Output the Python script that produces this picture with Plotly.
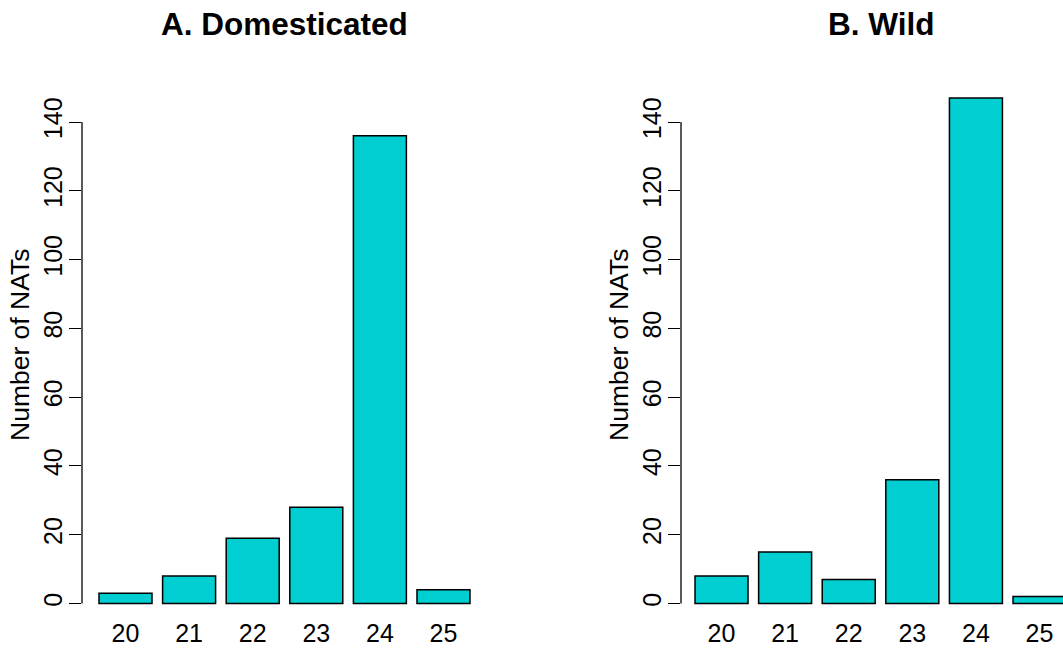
import plotly.graph_objects as go

# NAT counts by small-RNA length for the two groups
lengths = ["20", "21", "22", "23", "24", "25"]
domesticated = [3, 8, 19, 28, 136, 4]
wild = [8, 15, 7, 36, 147, 2]
y_ticks = [0, 20, 40, 60, 80, 100, 120, 140]

panel_titles = ["A. Domesticated", "B. Wild"]
y_title = "Number of NATs"

W, H = 1063, 651
FONT = "Liberation Sans, Arial, Helvetica, sans-serif"
FILL = "#00CED1"

fig = go.Figure()
fig.add_trace(go.Bar(x=lengths, y=domesticated, xaxis="x", yaxis="y",
                     marker=dict(color=FILL, line=dict(color="black", width=1.5)),
                     showlegend=False))
fig.add_trace(go.Bar(x=lengths, y=wild, xaxis="x2", yaxis="y2",
                     marker=dict(color=FILL, line=dict(color="black", width=1.5)),
                     showlegend=False))

# pixel helpers
def px_x(p):
    return p / W

def px_y(p):
    return 1 - p / H

y_dom = [px_y(610), px_y(66)]
y_rng = [-1.89, 156.3]

common_x = dict(type="category", showline=False, showgrid=False, zeroline=False,
                ticks="", tickfont=dict(family=FONT, size=25, color="black"),
                ticklabelstandoff=6)
common_y = dict(range=y_rng, domain=y_dom, showline=False, showgrid=False,
                zeroline=False, ticks="outside", ticklen=12, tickwidth=1.3,
                tickcolor="black", tickvals=y_ticks, tickangle=-90,
                ticklabelstandoff=-3,
                tickfont=dict(family=FONT, size=25, color="black"))

fig.update_layout(
    width=W, height=H, margin=dict(l=0, r=0, t=0, b=0),
    paper_bgcolor="white", plot_bgcolor="white",
    bargap=0.1667,
    xaxis=dict(domain=[px_x(82), px_x(488)], range=[-0.684, 5.70], anchor="y", **common_x),
    xaxis2=dict(domain=[px_x(681), 1.0], range=[-0.637, 5.369], anchor="y2", **common_x),
    yaxis=dict(anchor="x", **common_y),
    yaxis2=dict(anchor="x2", **common_y),
)

# R-style y axis lines spanning only the tick range
for xr, yr in (("x domain", "y"), ("x2 domain", "y2")):
    fig.add_shape(type="line", xref=xr, yref=yr, x0=0, x1=0,
                  y0=min(y_ticks), y1=max(y_ticks),
                  line=dict(color="black", width=1.3))

# panel titles and axis titles
for cx, title, ax in ((284.5, panel_titles[0], 20), (880.5, panel_titles[1], 619)):
    fig.add_annotation(text="<b>%s</b>" % title, xref="paper", yref="paper",
                       x=px_x(cx), y=px_y(24), showarrow=False,
                       xanchor="center", yanchor="middle",
                       font=dict(family=FONT, size=31.5, color="black"))
    fig.add_annotation(text=y_title, xref="paper", yref="paper",
                       x=px_x(ax), y=px_y(345), showarrow=False, textangle=-90,
                       xanchor="center", yanchor="middle",
                       font=dict(family=FONT, size=26.5, color="black"))

fig.write_html("out.html")
